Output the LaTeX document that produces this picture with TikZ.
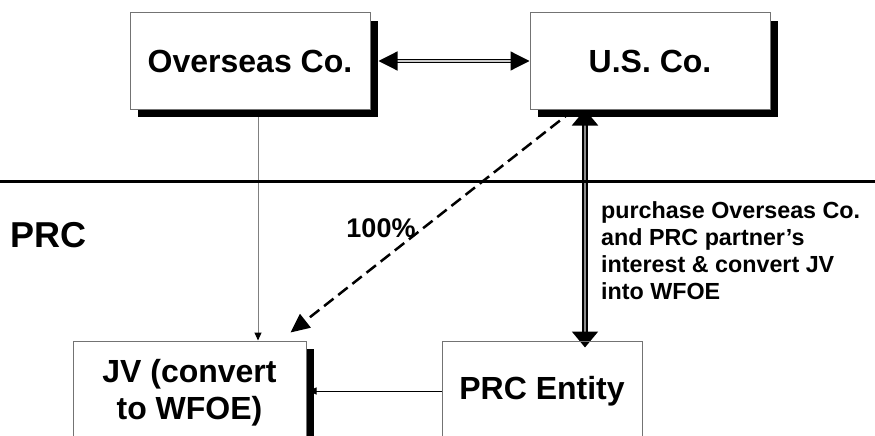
\documentclass[tikz,border=0pt]{standalone}
\usepackage{fontspec}
\setmainfont{Liberation Sans}
\usetikzlibrary{arrows.meta,shadows,backgrounds}
\tikzset{
  >={Triangle[length=8pt,width=7pt]},
  ent/.style  ={draw=black!55, line width=1pt, inner sep=2pt, align=center,
                font=\fontsize{32}{37}\selectfont\bfseries},
  shade/.style={fill=white, drop shadow={shadow xshift=8pt, shadow yshift=-8pt, fill=black, opacity=1}},
  tag/.style  ={inner sep=0pt},
  note/.style ={inner sep=0pt, align=left, font=\fontsize{23.3}{27}\selectfont\bfseries},
  twoway/.style={{Triangle[length=19pt,width=19pt]}-{Triangle[length=19pt,width=19pt]},
                line width=1.2pt, double=black!20, double distance=1.2pt},
  deal/.style ={{Triangle[length=16pt,width=26pt]}-{Triangle[length=16pt,width=26pt]},
                line width=2pt, double=black!45, double distance=1.8pt},
  own/.style  ={-{Triangle[length=19pt,width=17pt]}, line width=2.5pt, dash pattern=on 12pt off 6pt},
  feed/.style ={-{Triangle[length=8pt,width=7pt,color=black]}, draw=black!50, line width=1pt}
}
\begin{document}
\begin{tikzpicture}[x=1pt,y=-1pt]
\useasboundingbox (0,0) rectangle (875,436);
% companies
\node[ent,shade,minimum width=240pt,minimum height=96pt] (ov) at (250,61) {Overseas Co.};
\node[ent,shade,minimum width=240pt,minimum height=96pt] (us) at (650,61) {U.S. Co.};
\node[ent,shade,minimum width=233pt,minimum height=104pt] (jv) at (189.5,393) {JV (convert\\to WFOE)};
\node[ent,minimum width=200pt,minimum height=100pt] (prc) at (542,391) {PRC Entity};
% border line and labels
\draw[line width=3pt] (0,181) -- (875,181);
\node[tag,font=\fontsize{36}{40}\selectfont\bfseries,anchor=base west] (prcl) at (10.5,247) {PRC};
\node[tag,font=\fontsize{27}{30}\selectfont\bfseries,anchor=base] (pct) at (381,237) {100\%};
\node[note,anchor=north west] (buy) at (601,201) {purchase Overseas Co.\\and PRC partner’s\\interest \& convert JV\\into WFOE};
% connectors
\begin{scope}[on background layer]
\draw[twoway] ([xshift=8pt]ov.east) -- (us.west);
\draw[deal] ([xshift=-65pt]us.south) -- ([xshift=43pt,yshift=-7pt]prc.north);
\draw[own] ([xshift=-76pt]us.south) -- ([xshift=-16pt,yshift=8pt]jv.north east);
\draw[feed] ([xshift=8pt]ov.south) -- ([xshift=8pt]ov.south |- jv.north);
\draw[feed,draw=black] (prc.west) -- ([xshift=2pt]jv.east |- prc.west);
\end{scope}
\end{tikzpicture}
\end{document}
